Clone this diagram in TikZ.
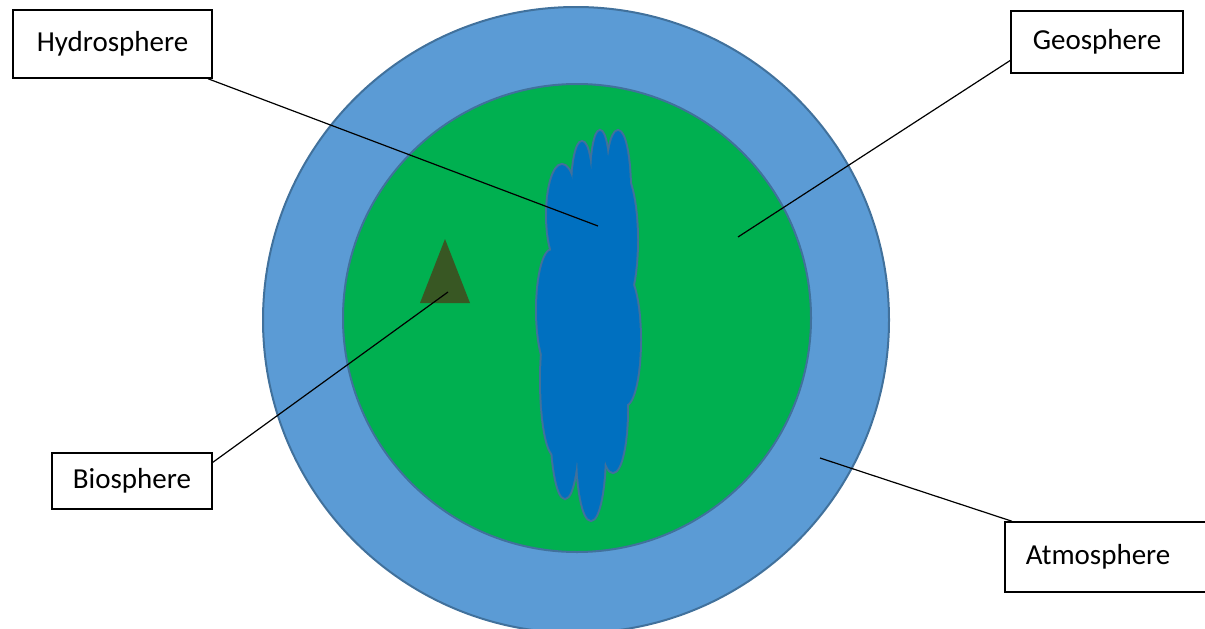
\documentclass[tikz,border=0pt]{standalone}
\usepackage{fontspec}
\setmainfont{Carlito}
\usetikzlibrary{positioning}
\definecolor{catmo}{RGB}{91,155,213}
\definecolor{cgeo}{RGB}{0,176,80}
\definecolor{cwater}{RGB}{0,112,192}
\definecolor{cedge}{RGB}{65,113,156}
\definecolor{ctree}{RGB}{56,87,35}

\begin{document}
\begin{tikzpicture}[x=1pt,y=-1pt,
    lbl/.style={draw,line width=1.5pt,fill=white,inner sep=0pt,font=\fontsize{29}{33}\selectfont},
    conn/.style={line width=1.2pt}]
  \useasboundingbox (0,0) rectangle (1205,629);
  \filldraw[fill=catmo, draw=cedge, line width=2pt] (576,320) circle[radius=313];
  \filldraw[fill=cgeo, draw=cedge, line width=2pt] (577,318) circle[radius=234];
  \foreach \cx/\cy/\rx/\ry in {562/215/15/50, 582/190/10/48, 600/180/9/49, 618/190/12/59,
      620/240/17/70, 625/340/15/65, 613/410/14/62, 591/450/14/70, 565/420/14/78,
      555/380/14/75, 552/310/15/60, 590/320/35/150}
    \draw[cedge, line width=4pt] (\cx,\cy) ellipse[x radius=\rx, y radius=\ry];
  \foreach \cx/\cy/\rx/\ry in {562/215/15/50, 582/190/10/48, 600/180/9/49, 618/190/12/59,
      620/240/17/70, 625/340/15/65, 613/410/14/62, 591/450/14/70, 565/420/14/78,
      555/380/14/75, 552/310/15/60, 590/320/35/150}
    \fill[cwater] (\cx,\cy) ellipse[x radius=\rx, y radius=\ry];
  \fill[ctree] (445,239) -- (470,303) -- (420,303) -- cycle;

  \coordinate (hydroPt) at (598,226);
  \coordinate (geoPt) at (738,237);
  \coordinate (bioPt) at (448,292);
  \coordinate (atmoPt) at (820,458);

  \node[lbl, minimum width=199pt, minimum height=68pt] (hydro) at (112.5,44) {Hydrosphere};
  \node[lbl, minimum width=172pt, minimum height=62pt] (geo) at (1097,42) {Geosphere};
  \node[lbl, minimum width=160pt, minimum height=56pt] (bio) at (132,481) {Biosphere};
  \node[lbl, anchor=west, minimum height=70pt, inner xsep=21pt, text width=174pt, align=left] (atmo) at (1004,557) {Atmosphere};

  \draw[conn] (hydro.340) -- (hydroPt);
  \draw[conn] (geo.192) -- (geoPt);
  \draw[conn] (bio.13) -- (bioPt);
  \draw[conn] ([xshift=8pt]atmo.north west) -- (atmoPt);
\end{tikzpicture}
\end{document}
